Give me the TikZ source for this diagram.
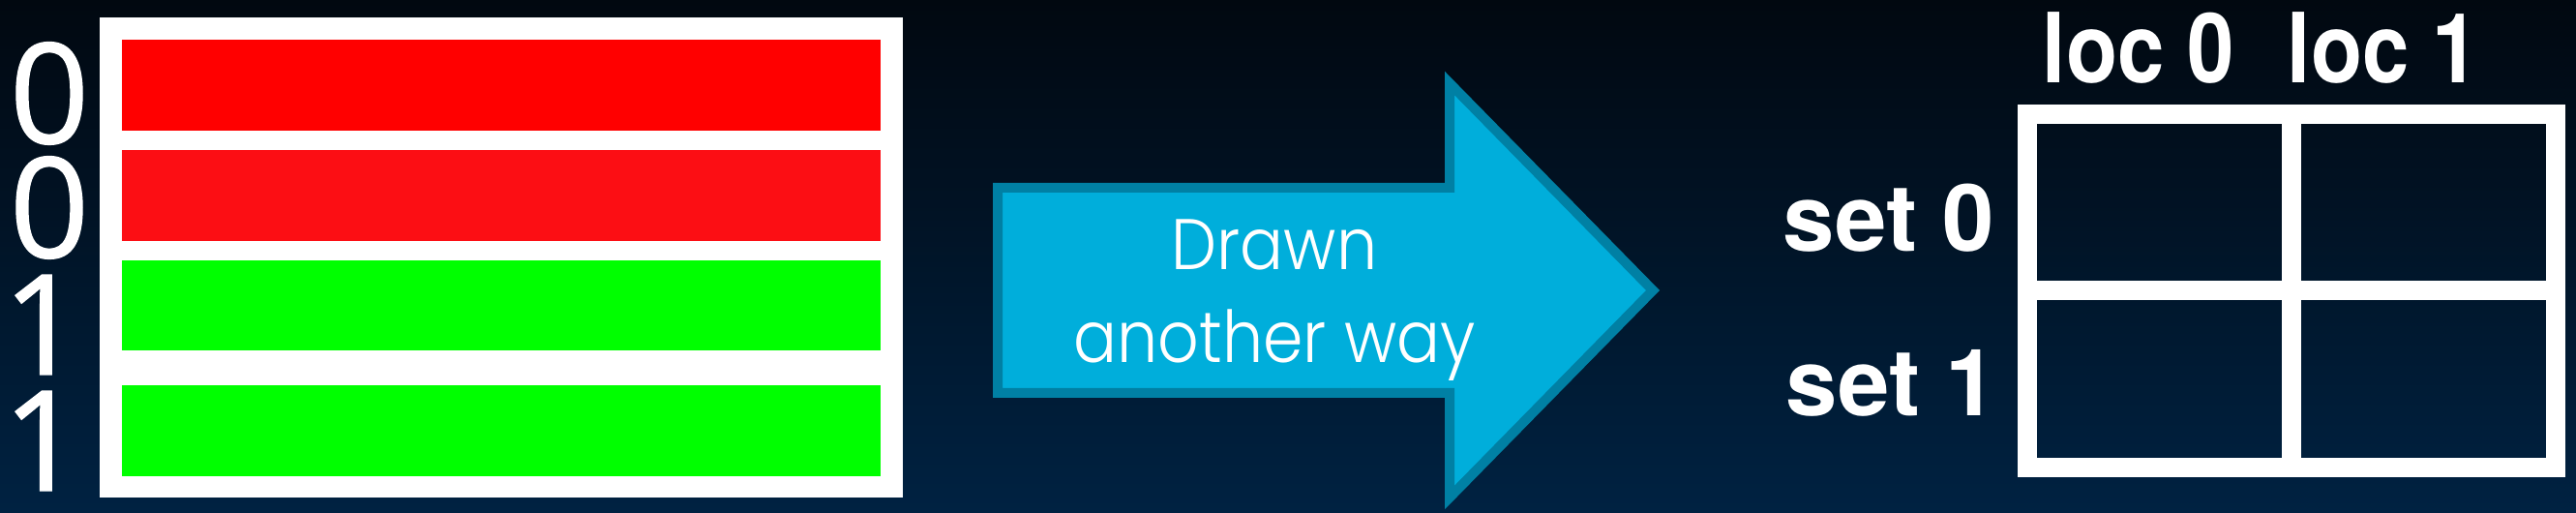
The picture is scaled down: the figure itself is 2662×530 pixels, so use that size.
\documentclass[tikz,border=0pt]{standalone}
\usepackage{fontspec}
\setmainfont{TeX Gyre Heros}
\newfontfamily\arrowfont{Poppins Light}
\newfontfamily\bitfont{Open Sans}[FakeBold=1]
\usetikzlibrary{positioning}
\definecolor{bgtop}{RGB}{1,8,16}
\definecolor{bgbottom}{RGB}{0,34,66}
\definecolor{barred}{RGB}{255,0,0}
\definecolor{barredb}{RGB}{252,14,20}
\definecolor{bargreen}{RGB}{0,255,0}
\definecolor{arrowfill}{RGB}{0,174,219}
\definecolor{arrowline}{RGB}{0,128,164}

\begin{document}
\begin{tikzpicture}[
        x=0.25pt, y=-0.25pt,
        bitlabel/.style={text=white, inner sep=0pt, anchor=base, text height=26pt, text depth=0pt,
            font=\bitfont\fontsize{36}{36}\selectfont},
        setlabel/.style={text=white, inner sep=0pt, anchor=base west, text depth=0pt,
            font=\bfseries\fontsize{24}{24}\selectfont},
        loclabel/.style={text=white, inner sep=0pt, anchor=base west, text depth=0pt,
            font=\bfseries\fontsize{25}{25}\selectfont},
        arrowtext/.style={text=white, inner sep=0pt, anchor=base, font=\arrowfont\fontsize{18.5}{22}\selectfont},
        gridline/.style={draw=white, line width=5pt}
    ]
        \useasboundingbox (0,0) rectangle (2662,530);
        \shade[top color=bgtop, bottom color=bgbottom] (0,0) rectangle (2662,530);

        % left block: bit column and the four lines
        \node[bitlabel] (bit0) at (51,148) {0};
        \node[bitlabel] (bit1) at (51,266) {0};
        \node[bitlabel] (bit2) at (44,387) {1};
        \node[bitlabel] (bit3) at (44,507) {1};

        \fill[white] (103,18) rectangle (933,514);
        \foreach \y/\h/\c in {41/135/barred, 155/249/barredb, 269/362/bargreen, 398/492/bargreen}
            \fill[\c] (126,\y) rectangle (910,\h);

        % big arrow
        \draw[arrowline, fill=arrowfill, line width=2.5pt]
            (1031,194) -- (1498,194) -- (1498,86) -- (1708,300)
            -- (1498,514) -- (1498,406) -- (1031,406) -- cycle;
        \node[arrowtext] (drawn) at (1317,279) {\scalebox{0.9}[1]{Drawn}};
        \node[arrowtext] (another) at (1317,375) {\scalebox{0.9}[1]{another way}};

        % right block: sets and locations
        \node[loclabel] (loc0) at (2110,86) {\scalebox{0.87}[1]{loc 0}};
        \node[loclabel] (loc1) at (2363,86) {\scalebox{0.87}[1]{loc 1}};
        \node[setlabel] (set0) at (1842,260) {set 0};
        \node[setlabel] (set1) at (1845,430) {set 1};

        \draw[gridline] (2095,118) rectangle (2641,483);
        \draw[gridline] (2368,118) -- (2368,483);
        \draw[gridline] (2095,300.5) -- (2641,300.5);
    \end{tikzpicture}
\end{document}
